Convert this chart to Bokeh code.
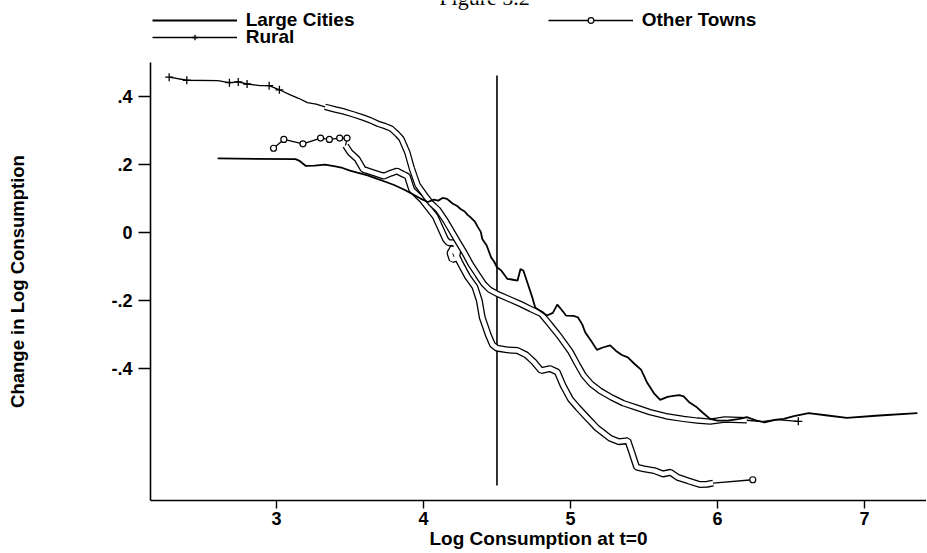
from bokeh.plotting import figure
from bokeh.models import Range1d, FixedTicker, Legend, LegendItem, Label
from bokeh.embed import file_html
from bokeh.resources import INLINE

# ---------------- data ----------------
large_x = [2.60, 3.13, 3.16, 3.20, 3.26, 3.33, 3.40, 3.45, 3.50, 3.55, 3.62, 3.69, 3.75, 3.80,
           3.87, 3.93, 3.98, 4.03, 4.07, 4.10, 4.13, 4.16, 4.20, 4.23, 4.25, 4.28, 4.30, 4.32,
           4.35, 4.37, 4.39, 4.40, 4.43, 4.46, 4.48, 4.50, 4.53, 4.57, 4.60, 4.64, 4.66, 4.68,
           4.71, 4.74, 4.76, 4.80, 4.84, 4.88, 4.91, 4.93, 4.97, 5.02, 5.05, 5.08, 5.10, 5.14,
           5.18, 5.22, 5.27, 5.31, 5.35, 5.39, 5.44, 5.48, 5.52, 5.57, 5.61, 5.66, 5.70, 5.74,
           5.77, 5.81, 5.86, 5.90, 5.95, 6.00, 6.07, 6.15, 6.20, 6.26, 6.32, 6.40, 6.45, 6.52,
           6.62, 6.75, 6.88, 7.10, 7.36]
large_y = [0.218, 0.216, 0.210, 0.196, 0.197, 0.200, 0.195, 0.190, 0.182, 0.176, 0.168, 0.157,
           0.148, 0.140, 0.126, 0.112, 0.100, 0.090, 0.097, 0.094, 0.102, 0.099, 0.085, 0.078,
           0.070, 0.062, 0.052, 0.045, 0.032, 0.016, 0.002, -0.019, -0.038, -0.073, -0.085,
           -0.102, -0.112, -0.136, -0.138, -0.141, -0.107, -0.112, -0.151, -0.190, -0.220,
           -0.232, -0.244, -0.236, -0.212, -0.222, -0.244, -0.245, -0.249, -0.270, -0.293,
           -0.318, -0.345, -0.338, -0.332, -0.348, -0.360, -0.367, -0.388, -0.403, -0.440,
           -0.474, -0.492, -0.483, -0.480, -0.478, -0.482, -0.500, -0.514, -0.530, -0.548,
           -0.553, -0.553, -0.548, -0.543, -0.552, -0.558, -0.550, -0.548, -0.540, -0.531,
           -0.538, -0.545, -0.538, -0.531]

rural_x = [2.27, 2.39, 2.60, 2.68, 2.74, 2.80, 2.89, 2.95, 3.02, 3.09, 3.15, 3.21, 3.27, 3.33,
           3.40, 3.46, 3.52, 3.59, 3.64, 3.69, 3.74, 3.78, 3.82, 3.85, 3.89, 3.92, 3.96, 4.01,
           4.05, 4.10, 4.15, 4.23, 4.28, 4.32, 4.37, 4.41, 4.45, 4.50, 4.58, 4.66, 4.73, 4.80,
           4.86, 4.93, 5.00, 5.05, 5.09, 5.14, 5.20, 5.28, 5.36, 5.45, 5.54, 5.65, 5.77, 5.86,
           5.95, 6.05, 6.20, 6.30, 6.40, 6.55]
rural_y = [0.457, 0.448, 0.447, 0.441, 0.443, 0.437, 0.432, 0.432, 0.420, 0.406, 0.395, 0.382,
           0.378, 0.370, 0.362, 0.356, 0.348, 0.338, 0.330, 0.320, 0.313, 0.306, 0.290, 0.276,
           0.236, 0.190, 0.140, 0.110, 0.087, 0.067, 0.035, -0.024, -0.060, -0.092, -0.125,
           -0.151, -0.168, -0.180, -0.195, -0.210, -0.225, -0.239, -0.270, -0.308, -0.350,
           -0.390, -0.420, -0.445, -0.465, -0.485, -0.502, -0.515, -0.528, -0.540, -0.548,
           -0.553, -0.556, -0.550, -0.552, -0.556, -0.550, -0.555]

towns_x = [2.98, 3.05, 3.18, 3.30, 3.36, 3.43, 3.48, 3.47, 3.50, 3.55, 3.59, 3.66, 3.73, 3.78,
           3.82, 3.86, 3.89, 3.92, 3.99, 4.08, 4.15, 4.17, 4.21, 4.235, 4.225, 4.195, 4.18, 4.20,
           4.25, 4.30, 4.35, 4.38, 4.40, 4.44, 4.47, 4.50, 4.57, 4.64, 4.70, 4.75, 4.80, 4.86,
           4.91, 4.95, 5.00, 5.05, 5.11, 5.18, 5.27, 5.33, 5.39, 5.42, 5.45, 5.50, 5.57, 5.63,
           5.68, 5.73, 5.80, 5.88, 5.93, 5.97, 6.24]
towns_y = [0.248, 0.274, 0.261, 0.278, 0.274, 0.278, 0.278, 0.256, 0.236, 0.216, 0.186, 0.176,
           0.166, 0.175, 0.181, 0.172, 0.166, 0.126, 0.097, 0.047, -0.020, -0.030, -0.030,
           -0.050, -0.075, -0.080, -0.060, -0.045, -0.090, -0.130, -0.160, -0.200, -0.250,
           -0.300, -0.330, -0.340, -0.345, -0.347, -0.360, -0.380, -0.406, -0.400, -0.410,
           -0.450, -0.490, -0.515, -0.543, -0.575, -0.605, -0.615, -0.612, -0.650, -0.690,
           -0.695, -0.700, -0.710, -0.705, -0.720, -0.730, -0.741, -0.740, -0.737, -0.727]

x_ticks = [3, 4, 5, 6, 7]
y_ticks = [0.4, 0.2, 0.0, -0.2, -0.4]
y_tick_labels = [".4", ".2", "0", "-.2", "-.4"]

title_text = "Figure 5.2"

# axis extents (data units) and reference line
x_axis_bounds = (2.143, 7.42)
y_axis_bounds = (-0.788, 0.5)
vline_x = 4.5
vline_y = (-0.744, 0.462)

# ---------------- figure ----------------
FONT = "Liberation Sans"
W, H = 926, 552
PX_X = 147.0   # pixels per x unit
PX_Y = 340.0   # pixels per y unit
AXIS_LEFT = 150    # canvas px where the y axis sits
AXIS_BOTTOM = 52   # x axis distance above the canvas bottom (px)
x0 = x_axis_bounds[0] - AXIS_LEFT / PX_X
y0 = y_axis_bounds[0] - AXIS_BOTTOM / PX_Y
p = figure(width=W, height=H, output_backend="svg", toolbar_location=None,
           x_range=Range1d(x0, x0 + W / PX_X), y_range=Range1d(y0, y0 + H / PX_Y),
           min_border=0)
p.outline_line_color = None
p.grid.visible = False
p.background_fill_color = "white"
p.border_fill_color = "white"

for ax in (p.xaxis, p.yaxis):
    ax.axis_line_color = "black"
    ax.axis_line_width = 1.6
    ax.major_tick_line_color = "black"
    ax.major_tick_line_width = 1.4
    ax.minor_tick_line_color = None
    ax.major_tick_in = 0
    ax.major_label_text_font = FONT
    ax.major_label_text_font_style = "bold"
    ax.major_label_text_font_size = "18px"
    ax.major_label_text_color = "black"
    ax.axis_label_text_font = FONT
    ax.axis_label_text_font_style = "bold"
    ax.axis_label_text_color = "black"

p.xaxis.fixed_location = y_axis_bounds[0]
p.xaxis.bounds = x_axis_bounds
p.xaxis.ticker = FixedTicker(ticks=x_ticks)
p.xaxis.major_tick_out = 8
p.xaxis.major_label_standoff = 3
p.xaxis.axis_label = "Log Consumption at t=0"
p.xaxis.axis_label_text_font_size = "19px"
p.xaxis.axis_label_standoff = 0

p.yaxis.fixed_location = x_axis_bounds[0]
p.yaxis.bounds = y_axis_bounds
p.yaxis.ticker = FixedTicker(ticks=y_ticks)
p.yaxis.major_label_overrides = {t: l for t, l in zip(y_ticks, y_tick_labels)}
p.yaxis.major_tick_out = 12
p.yaxis.major_label_standoff = 6
p.yaxis.axis_label = "Change in Log Consumption"
p.yaxis.axis_label_text_font_size = "18.5px"
p.yaxis.axis_label_standoff = 80

# title of the scanned page (only its lower edge is visible in the scan)
p.add_layout(Label(x=484, y=H + 3, x_units="screen", y_units="screen", text=title_text,
                   text_font="Liberation Serif", text_font_size="22px",
                   text_align="center", text_baseline="alphabetic", text_color="black"))

# vertical reference line
p.segment(x0=[vline_x], y0=[vline_y[0]], x1=[vline_x], y1=[vline_y[1]],
          line_color="black", line_width=1.6)

def idx_range(xs, lo, hi):
    return [i for i, v in enumerate(xs) if lo <= v <= hi]

# thin base lines
r_towns = p.line(towns_x, towns_y, line_color="black", line_width=1.3)
r_rural = p.line(rural_x, rural_y, line_color="black", line_width=1.3)

# dense portions look like hollow (outlined) strokes in the scan
ti = list(range(7, len(towns_x) - 1))
p.line([towns_x[i] for i in ti], [towns_y[i] for i in ti], line_color="black", line_width=7)
p.line([towns_x[i] for i in ti], [towns_y[i] for i in ti], line_color="white", line_width=4.4)
ri = idx_range(rural_x, 3.33, 6.2)
p.line([rural_x[i] for i in ri], [rural_y[i] for i in ri], line_color="black", line_width=6.5)
p.line([rural_x[i] for i in ri], [rural_y[i] for i in ri], line_color="white", line_width=4.0)

r_large = p.line(large_x, large_y, line_color="black", line_width=1.8)

# markers
mk_t = [0, 1, 2, 3, 4, 5, 6, len(towns_x) - 1]
r_tmk = p.scatter([towns_x[i] for i in mk_t], [towns_y[i] for i in mk_t], marker="circle",
                  size=6, fill_color="white", line_color="black", line_width=1.2)
mk_r = [0, 1, 3, 4, 5, 7, 8, len(rural_x) - 1]
r_rmk = p.scatter([rural_x[i] for i in mk_r], [rural_y[i] for i in mk_r], marker="cross",
                  size=8, line_color="black", line_width=1.3)

leg_style = dict(margin=0, padding=0, spacing=0, glyph_width=85, glyph_height=14,
                 label_height=14, label_standoff=9, border_line_color=None,
                 background_fill_alpha=0, label_text_font=FONT,
                 label_text_font_style="bold", label_text_font_size="19px",
                 label_text_color="black")

LEG_X = 151.7
ROW1_Y = 20    # canvas px of legend row centres
ROW2_Y = 37
HALF = 10.6
legend1 = Legend(items=[LegendItem(label="Large Cities", renderers=[r_large]),
                        LegendItem(label="Other Towns", renderers=[r_towns, r_tmk])],
                 orientation="horizontal", label_width=302,
                 location=(LEG_X, H - ROW1_Y - HALF), **leg_style)
legend2 = Legend(items=[LegendItem(label="Rural", renderers=[r_rural, r_rmk])],
                 orientation="horizontal",
                 location=(LEG_X, H - ROW2_Y - HALF), **leg_style)
p.add_layout(legend1)
p.add_layout(legend2)

open("out.html", "w").write(file_html(p, INLINE))
